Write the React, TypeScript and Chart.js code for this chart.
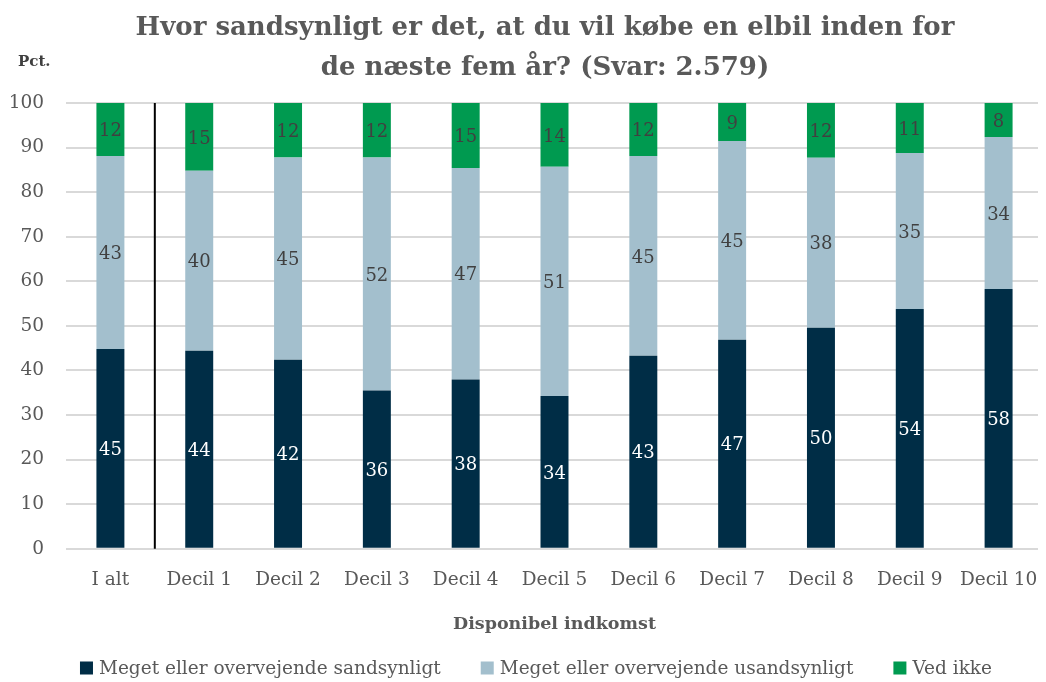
import React, { useEffect, useRef } from "react";
import { Chart, registerables } from "chart.js";

Chart.register(...registerables);

const categories = ["I alt", "Decil 1", "Decil 2", "Decil 3", "Decil 4", "Decil 5", "Decil 6", "Decil 7", "Decil 8", "Decil 9", "Decil 10"];
const likely = [44.8, 44.4, 42.4, 35.5, 38.0, 34.3, 43.3, 46.9, 49.6, 53.8, 58.3];
const unlikely = [43.3, 40.4, 45.4, 52.3, 47.4, 51.4, 44.8, 44.6, 38.1, 35.0, 34.1];
const dontKnow = [11.9, 15.2, 12.2, 12.2, 14.6, 14.3, 11.9, 8.5, 12.3, 11.2, 7.6];
const seriesNames = ["Meget eller overvejende sandsynligt", "Meget eller overvejende usandsynligt", "Ved ikke"];
const seriesColors = ["#002D46", "#A3BFCD", "#009A50"];
const yTicks = [0, 10, 20, 30, 40, 50, 60, 70, 80, 90, 100];
const titleLines = ["Hvor sandsynligt er det, at du vil købe en elbil inden for", "de næste fem år? (Svar: 2.579)"];

const FONT = "'DejaVu Serif', serif";

const labelPlugin = {
  id: "barLabels",
  afterDatasetsDraw(chart: any) {
    const ctx = chart.ctx;
    ctx.save();
    ctx.font = `18px ${FONT}`;
    ctx.textAlign = "center";
    ctx.textBaseline = "middle";
    chart.data.datasets.forEach((ds: any, di: number) => {
      const meta = chart.getDatasetMeta(di);
      meta.data.forEach((bar: any, i: number) => {
        const v = ds.data[i];
        const y = (bar.y + bar.base) / 2 + 2;
        ctx.fillStyle = di === 0 ? "#ffffff" : "#404040";
        ctx.fillText(String(Math.round(v)), bar.x, y);
      });
    });
    ctx.restore();
  },
};

const extrasPlugin = {
  id: "extras",
  afterDraw(chart: any) {
    const ctx = chart.ctx;
    const x = chart.scales.x;
    const y = chart.scales.y;
    const xl = (x.getPixelForValue(0) + x.getPixelForValue(1)) / 2;
    ctx.save();
    ctx.strokeStyle = "#000000";
    ctx.lineWidth = 2;
    ctx.beginPath();
    ctx.moveTo(xl, y.getPixelForValue(100));
    ctx.lineTo(xl, y.getPixelForValue(0));
    ctx.stroke();

    // title
    ctx.fillStyle = "#595959";
    ctx.font = `bold 26px ${FONT}`;
    ctx.textAlign = "center";
    ctx.textBaseline = "middle";
    ctx.fillText(titleLines[0], 537, 20);
    ctx.fillText(titleLines[1], 537, 60);

    ctx.fillStyle = "#404040";
    ctx.font = `bold 15px ${FONT}`;
    ctx.textAlign = "left";
    ctx.fillText("Pct.", 10, 54);

    // legend
    ctx.font = `18.5px ${FONT}`;
    const box = 13;
    const gap = 6;
    const spacing = 40;
    const widths = chart.data.datasets.map((ds: any) => box + gap + ctx.measureText(ds.label).width);
    const total = widths.reduce((a: number, b: number) => a + b, 0) + spacing * (widths.length - 1);
    let cx = 528 - total / 2;
    const cy = 660;
    chart.data.datasets.forEach((ds: any, i: number) => {
      ctx.fillStyle = ds.backgroundColor;
      ctx.fillRect(cx, cy - box / 2, box, box);
      ctx.fillStyle = "#595959";
      ctx.fillText(ds.label, cx + box + gap, cy + 1);
      cx += widths[i] + spacing;
    });
    ctx.restore();
  },
};

export default function App() {
  const ref = useRef<HTMLCanvasElement | null>(null);
  useEffect(() => {
    if (!ref.current) return;
    const chart = new Chart(ref.current, {
      type: "bar",
      data: {
        labels: categories,
        datasets: [
          { label: seriesNames[0], data: likely, backgroundColor: seriesColors[0], barPercentage: 0.315, categoryPercentage: 1 },
          { label: seriesNames[1], data: unlikely, backgroundColor: seriesColors[1], barPercentage: 0.315, categoryPercentage: 1 },
          { label: seriesNames[2], data: dontKnow, backgroundColor: seriesColors[2], barPercentage: 0.315, categoryPercentage: 1 },
        ],
      },
      options: {
        animation: false,
        responsive: false,
        maintainAspectRatio: false,
        layout: { padding: { left: 0, right: 0, top: 95, bottom: 47 } },
        plugins: {
          title: { display: false },
          legend: { display: false },
          tooltip: { enabled: false },
        },
        scales: {
          x: {
            stacked: true,
            grid: { display: false },
            border: { display: false },
            afterFit: (axis: any) => {
              axis.paddingLeft = 0;
              axis.paddingRight = 3;
            },
            ticks: { color: "#595959", font: { family: FONT, size: 18.5 }, padding: 12 },
            title: {
              display: true,
              text: "Disponibel indkomst",
              color: "#595959",
              font: { family: FONT, size: 17.5, weight: "bold" },
              padding: { top: 11, bottom: 0 },
            },
          },
          y: {
            stacked: true,
            min: 0,
            max: 100,
            afterBuildTicks: (axis: any) => {
              axis.ticks = yTicks.map((v) => ({ value: v }));
            },
            afterFit: (axis: any) => {
              axis.width = 58;
            },
            grid: { color: "#D9D9D9", lineWidth: 2, drawTicks: false },
            border: { display: false },
            ticks: { color: "#595959", font: { family: FONT, size: 18.5 }, padding: 22 },
          },
        },
      },
      plugins: [labelPlugin, extrasPlugin],
    });
    return () => chart.destroy();
  }, []);
  return (
    <div style={{ width: 1038, height: 674 }}>
      <canvas ref={ref} width={1038} height={674} style={{ display: "block" }} />
    </div>
  );
}
